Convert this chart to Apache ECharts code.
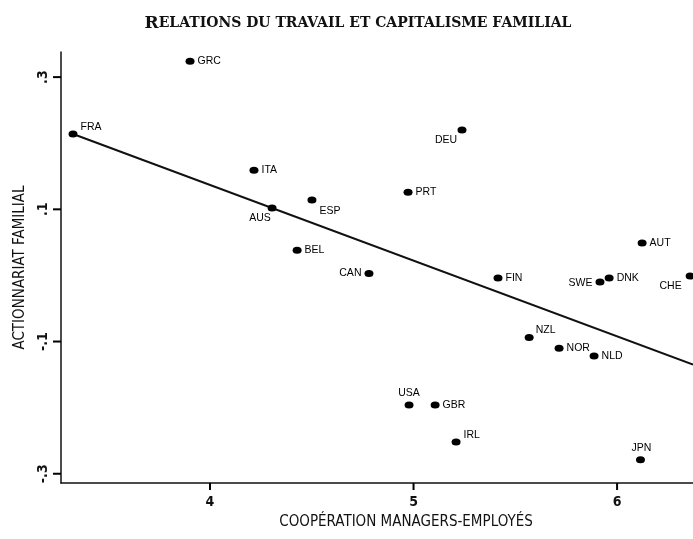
<!DOCTYPE html>
<html>
<head>
<meta charset="utf-8">
<script src="https://cdn.jsdelivr.net/npm/echarts@6/dist/echarts.min.js"></script>
<style>
  html, body { margin: 0; padding: 0; background: #fff; }
  #chart { width: 693px; height: 539px; }
</style>
</head>
<body>
<div id="chart"></div>
<script>
// pays et coordonnées
const countries = ['FRA','GRC','ITA','AUS','ESP','BEL','CAN','DEU','PRT','FIN','AUT','SWE','DNK','CHE','NZL','NOR','NLD','USA','GBR','IRL','JPN'];
const cooperation = [3.327, 3.902, 4.216, 4.305, 4.501, 4.428, 4.781, 5.238, 4.973, 5.415, 6.123, 5.916, 5.961, 6.359, 5.568, 5.715, 5.887, 4.978, 5.106, 5.209, 6.115];
const actionnariat = [0.214, 0.324, 0.159, 0.102, 0.114, 0.038, 0.003, 0.220, 0.126, -0.004, 0.049, -0.010, -0.004, -0.001, -0.094, -0.110, -0.122, -0.196, -0.196, -0.252, -0.279];
// droite de régression (extrémités)
const fitX = [3.327, 6.373];
const fitY = [0.214, -0.135];
const xTicks = [4, 5, 6];
const yTicks = [-0.3, -0.1, 0.1, 0.3];

const X_MIN = 3.268, X_MAX = 6.373;
const Y_MIN = -0.314, Y_MAX = 0.338;

const condensed = "'Liberation Sans Narrow', 'DejaVu Sans Condensed', sans-serif";

// placement des étiquettes
const labelPlace = {
  FRA: { position: 'right', offset: [0, -7] },
  DEU: { position: 'bottom', offset: [-16, -2] },
  AUS: { position: 'bottom', offset: [-12, -2] },
  ESP: { position: 'right', offset: [0, 11] },
  CAN: { position: 'left' },
  SWE: { position: 'left', offset: [0, 1] },
  CHE: { position: 'left', offset: [-1, 10] },
  NZL: { position: 'right', offset: [-1, -7] },
  USA: { position: 'top', offset: [0, 0] },
  IRL: { position: 'right', offset: [0, -7] },
  JPN: { position: 'top', offset: [1, 0] }
};

const points = countries.map((c, i) => {
  const p = labelPlace[c] || { position: 'right' };
  return {
    name: c,
    value: [cooperation[i], actionnariat[i]],
    label: { position: p.position, offset: p.offset || [0, 0] }
  };
});

const chart = echarts.init(document.getElementById('chart'));
chart.setOption({
  animation: false,
  backgroundColor: '#fff',
  title: {
    text: '{big|R}{sm|ELATIONS DU TRAVAIL ET CAPITALISME FAMILIAL}',
    left: 353,
    textAlign: 'center',
    top: 10,
    textStyle: {
      rich: {
        big: { fontFamily: "'DejaVu Serif', serif", fontWeight: 'bold', fontSize: 17, color: '#111' },
        sm: { fontFamily: "'DejaVu Serif', serif", fontWeight: 'bold', fontSize: 14, color: '#111' }
      }
    }
  },
  grid: { left: 61, right: 0, top: 52, bottom: 56 },
  xAxis: {
    type: 'value',
    min: X_MIN,
    max: X_MAX,
    name: 'COOPÉRATION MANAGERS-EMPLOYÉS',
    nameLocation: 'middle',
    nameGap: 32,
    nameTextStyle: { fontFamily: condensed, fontSize: 15, color: '#111', padding: [0, 0, 0, 58] },
    splitLine: { show: false },
    axisLine: { onZero: false, lineStyle: { color: '#111', width: 1.5 } },
    axisTick: { show: false },
    axisLabel: { fontFamily: condensed, fontSize: 14, fontWeight: 'bold', color: '#111', margin: 12, customValues: xTicks }
  },
  yAxis: {
    type: 'value',
    min: Y_MIN,
    max: Y_MAX,
    name: 'ACTIONNARIAT FAMILIAL',
    nameLocation: 'middle',
    nameGap: 33,
    nameTextStyle: { fontFamily: condensed, fontSize: 15, color: '#111' },
    splitLine: { show: false },
    axisLine: { onZero: false, lineStyle: { color: '#111', width: 1.5 } },
    axisTick: { show: false },
    axisLabel: {
      fontFamily: condensed, fontSize: 14, fontWeight: 'bold', color: '#111', rotate: 90, margin: 11,
      customValues: yTicks,
      formatter: v => (v < 0 ? '-' : '') + '.' + Math.round(Math.abs(v) * 10)
    }
  },
  series: [
    {
      type: 'line',
      data: fitX.map((x, i) => [x, fitY[i]]),
      symbol: 'none',
      lineStyle: { color: '#111', width: 2 },
      silent: true,
      z: 1
    },
    {
      type: 'scatter',
      data: points,
      symbol: 'circle',
      symbolSize: [9, 7],
      itemStyle: { color: '#000', opacity: 1 },
      label: {
        show: true,
        formatter: '{b}',
        distance: 3,
        fontFamily: "'Liberation Sans', Arial, sans-serif",
        fontSize: 10.5,
        color: '#000'
      },
      z: 2
    }
  ]
});

// graduations : positions converties par l'échelle des axes
const tickMarks = [];
xTicks.forEach(v => {
  const p = chart.convertToPixel({ gridIndex: 0 }, [v, Y_MIN]);
  tickMarks.push({ type: 'line', shape: { x1: p[0], y1: p[1], x2: p[0], y2: p[1] + 7 },
    style: { stroke: '#000', lineWidth: 2 }, silent: true, z: 100 });
});
yTicks.forEach(v => {
  const p = chart.convertToPixel({ gridIndex: 0 }, [X_MIN, v]);
  tickMarks.push({ type: 'line', shape: { x1: p[0] - 8, y1: p[1], x2: p[0], y2: p[1] },
    style: { stroke: '#000', lineWidth: 2 }, silent: true, z: 100 });
});
chart.setOption({ graphic: { elements: tickMarks } });
</script>
</body>
</html>
